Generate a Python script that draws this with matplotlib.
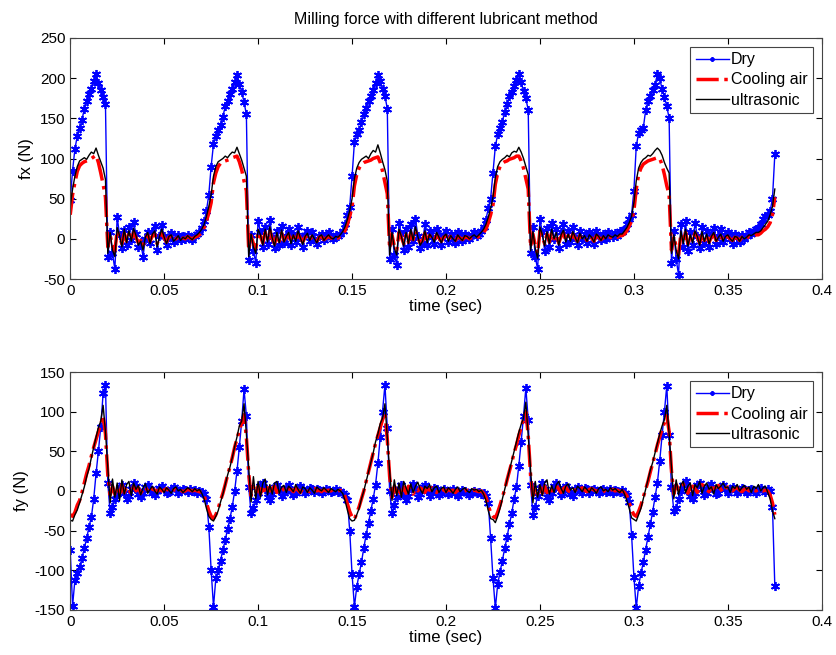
import numpy as np
import matplotlib
matplotlib.use('Agg')
from matplotlib import pyplot as plt

plt.rcParams['font.family'] = ['Liberation Sans', 'DejaVu Sans']
plt.rcParams['axes.unicode_minus'] = False

# sample time, 1.25 ms steps (0 .. 0.375 s)
t = np.arange(301) * 0.00125

# fx values (20 samples = 25 ms per row)
fx_dry = [48, 85, 112, 128, 138, 148, 162, 172, 180, 187, 196, 205, 194, 185, 176, 168, -22, 8, -18, -38,
          27, 5, -12, 11, -8, 15, -2, 21, 6, -10, -4, -22, 0, 9, -5, 8, 16, -14, 4, 17,
          3, -8, 2, 7, -4, 0, 5, -2, 3, 0, 5, 2, -1, 4, 6, 9, 14, 22, 35, 55,
          90, 118, 128, 135, 142, 152, 165, 172, 180, 186, 195, 204, 193, 183, 170, 155, -26, 5, -15, -30,
          22, 8, -10, 15, -6, 24, 2, -12, 10, -8, 16, -5, 4, 12, -8, 6, -4, 15, 2, -10,
          5, 10, -3, 8, 0, -6, 4, 6, -2, 3, 8, 2, 0, 5, 3, 6, 10, 18, 30, 40,
          78, 120, 130, 136, 145, 155, 163, 172, 178, 185, 194, 204, 196, 186, 178, 162, -25, 12, -20, -32,
          20, 6, -14, 12, -10, 18, -3, 25, 4, -12, -5, 18, -8, 10, 2, -6, 12, 3, -8, 5,
          10, -4, 6, 0, -5, 8, 2, -3, 6, 4, 0, 5, 8, 3, 6, 10, 15, 24, 38, 50,
          82, 115, 130, 138, 146, 158, 168, 178, 183, 190, 198, 205, 195, 184, 175, 160, -18, 15, -22, -38,
          25, 8, -15, 14, -10, 20, 0, 12, -12, 8, 18, -6, 10, -4, 15, 2, -8, 10, 0, 6,
          -5, 8, 3, -6, 10, 4, -2, 6, 0, 8, 5, 2, 7, 4, 10, 8, 12, 18, 25, 30,
          60, 115, 132, 135, 138, 160, 172, 178, 185, 192, 205, 200, 186, 177, 165, 150, -30, 10, -25, -45,
          18, -10, 22, -15, 8, -8, 20, 4, -12, 15, -5, 10, -10, 6, 14, -6, 3, 12, -4, 5,
          8, 0, -6, 6, 2, -4, 5, 0, 4, 8, 6, 10, 12, 14, 18, 25, 28, 30, 35, 50,
          105]
fx_air = [30, 55, 70, 84, 91, 94, 96, 97, 98, 100, 102, 104, 95, 82, 68, 52, -10, 4, -8, -15,
          10, 2, -6, 7, -3, 6, -1, 8, 2, -5, -2, -9, 1, 5, -3, 4, 6, -6, 2, 7,
          1, -4, 2, 3, -2, 0, 2, -1, 1, 0, 3, 1, 0, 2, 3, 5, 8, 14, 22, 32,
          45, 70, 82, 90, 94, 96, 97, 98, 99, 101, 102, 103, 96, 86, 72, 60, -14, 4, -6, -12,
          8, 3, -5, 8, -2, 10, 0, -6, 5, -3, 7, -2, 2, 5, -4, 3, -2, 6, 1, -4,
          2, 4, -1, 3, 0, -3, 2, 3, -1, 1, 3, 1, 0, 2, 1, 3, 6, 10, 18, 28,
          40, 66, 80, 88, 93, 95, 96, 97, 98, 100, 101, 102, 95, 84, 70, 56, -12, 5, -9, -14,
          8, 2, -6, 5, -4, 8, -1, 10, 2, -5, -2, 7, -3, 4, 1, -2, 5, 1, -3, 2,
          4, -2, 3, 0, -2, 3, 1, -1, 2, 2, 0, 2, 3, 1, 3, 5, 8, 12, 20, 30,
          42, 68, 82, 90, 94, 96, 97, 99, 100, 101, 103, 103, 97, 88, 75, 62, -10, 6, -8, -18,
          10, 3, -6, 6, -4, 8, 0, 5, -5, 3, 7, -2, 4, -2, 6, 1, -3, 4, 0, 2,
          -2, 3, 1, -3, 4, 2, -1, 2, 0, 3, 2, 1, 3, 2, 4, 4, 6, 10, 16, 22,
          35, 62, 80, 88, 93, 95, 97, 98, 99, 100, 101, 100, 92, 80, 66, 55, -14, 3, -10, -20,
          6, -4, 8, -6, 3, -3, 7, 2, -5, 6, -2, 4, -4, 2, 5, -2, 1, 4, -2, 2,
          3, 0, -2, 2, 1, -2, 2, 0, 1, 3, 2, 4, 5, 5, 7, 10, 12, 15, 20, 30,
          52]
fx_us = [40, 62, 78, 90, 97, 99, 101, 99, 104, 108, 106, 113, 104, 96, 88, 74, -18, 8, -14, -22,
         14, 4, -10, 12, -5, 10, -3, 13, 4, -8, -3, -14, 2, 8, -6, 6, 10, -10, 3, 12,
         2, -6, 3, 5, -3, 0, 4, -2, 2, 0, 4, 1, -1, 3, 5, 8, 12, 18, 28, 40,
         55, 78, 90, 96, 98, 100, 103, 101, 105, 108, 107, 114, 106, 98, 88, 78, -22, 6, -10, -18,
         12, 5, -8, 12, -4, 15, 1, -9, 8, -5, 11, -4, 3, 8, -6, 5, -3, 10, 1, -7,
         3, 7, -2, 5, 0, -5, 3, 5, -2, 2, 5, 1, 0, 3, 2, 5, 9, 15, 24, 35,
         50, 75, 88, 95, 99, 101, 103, 100, 106, 110, 108, 117, 107, 96, 86, 72, -20, 8, -12, -20,
         12, 3, -9, 8, -6, 12, -2, 15, 3, -8, -3, 10, -5, 6, 2, -4, 8, 2, -5, 3,
         6, -3, 4, 0, -3, 5, 1, -2, 4, 3, 0, 3, 5, 2, 5, 8, 12, 18, 27, 38,
         52, 76, 90, 96, 99, 101, 104, 102, 107, 109, 108, 114, 108, 100, 90, 80, -15, 9, -12, -24,
         15, 5, -9, 9, -6, 12, 0, 8, -8, 5, 11, -4, 6, -3, 9, 2, -5, 7, 0, 4,
         -3, 5, 2, -4, 6, 3, -2, 4, 0, 5, 3, 2, 5, 3, 6, 6, 10, 14, 20, 28,
         45, 72, 88, 95, 99, 101, 104, 103, 106, 110, 113, 110, 104, 95, 88, 82, -18, 5, -14, -25,
         10, -6, 12, -9, 5, -5, 10, 3, -8, 9, -3, 6, -6, 3, 8, -3, 2, 6, -3, 3,
         5, 0, -3, 3, 2, -3, 3, 0, 2, 5, 4, 6, 8, 8, 10, 14, 18, 22, 30, 40,
         62]

# fy values
fy_dry = [-75, -145, -112, -103, -96, -85, -72, -60, -45, -33, -10, 22, 50, 81, 123, 134, 10, -28, -20, -10,
          -4, 5, 8, -2, -10, -6, 3, 10, 6, -4, -8, -2, 5, 8, 2, -3, -5, 0, 4, 6,
          2, -3, -1, 3, 5, 2, -2, 0, 3, 1, -1, 2, 0, 1, -2, 0, -1, -4, -10, -45,
          -100, -146, -110, -100, -88, -74, -62, -48, -35, -20, 0, 25, 55, 88, 128, 95, 5, -28, -22, -12,
          -2, 6, 10, 3, -8, -12, -4, 5, 8, 2, -6, -3, 4, 7, 0, -5, -2, 3, 6, 2,
          -3, 0, 4, 2, -1, 3, 1, -2, 0, 2, 1, -1, 0, 2, -1, 0, -2, -5, -12, -50,
          -105, -146, -121, -105, -90, -72, -55, -40, -25, -10, 8, 35, 68, 100, 134, 80, 0, -28, -18, -8,
          2, 8, -5, -12, -6, 4, 9, 2, -8, -4, 5, 8, 0, -6, -3, 4, 2, -5, -2, 3,
          0, -4, -2, 2, -3, -6, -2, 1, 0, -3, -5, -2, 0, -3, -1, -4, -2, -6, -15, -60,
          -110, -148, -118, -102, -88, -72, -58, -42, -28, -10, 5, 32, 62, 95, 130, 90, 8, -30, -20, -6,
          4, 10, 2, -8, -12, -3, 6, 10, 4, -5, -2, 6, 3, -4, -6, 2, 5, 0, -3, 4,
          2, -2, 1, 3, 0, -3, 1, 2, -1, 0, 2, -2, 1, 0, -1, 1, -2, -5, -14, -55,
          -108, -148, -120, -104, -90, -74, -58, -42, -26, -8, 10, 38, 70, 100, 133, 70, 5, -25, -22, -10,
          0, 8, 12, 4, -6, -10, -2, 8, 10, 3, -5, -3, 5, 9, 2, -4, -2, 4, 8, 3,
          -2, 2, 5, 1, -3, 0, 4, 2, -2, 1, 3, 0, -2, 2, 4, 1, -1, 2, 0, -20,
          -120]
fy_air = [-30, -32, -27, -18, -12, -2, 10, 22, 32, 44, 55, 65, 75, 84, 95, 72, 20, -5, 6, -4,
          3, -6, 8, -2, 5, 2, -4, 6, 0, 4, -3, 2, 5, 0, -2, 3, 1, -1, 2, 0,
          1, 3, 0, -2, 1, 2, 0, 1, -1, 0, 2, 1, 0, 1, 0, -1, -2, -6, -15, -25,
          -32, -35, -30, -22, -12, -3, 8, 20, 30, 42, 55, 66, 76, 86, 96, 68, 22, -6, 5, -3,
          6, -4, 7, -3, 4, 0, 3, 6, -2, 2, 5, 1, -2, 3, 2, -1, 4, 1, -2, 3,
          2, 0, -1, 2, 3, 0, 1, -1, 2, 0, 1, 0, 2, 1, 0, 1, -2, -7, -16, -26,
          -33, -36, -28, -20, -10, 0, 12, 24, 36, 48, 60, 70, 80, 90, 98, 65, 18, -8, 6, -2,
          4, -6, 5, -3, 6, 2, -4, 3, 0, 4, 2, -2, 3, 1, 4, 0, -2, 3, 1, 2,
          -1, 2, 0, 1, -2, 1, 0, -1, 0, 1, -1, 0, 1, 0, -1, 0, -3, -8, -18, -28,
          -32, -34, -27, -18, -8, 2, 14, 25, 36, 48, 58, 70, 80, 90, 100, 70, 20, -6, 4, -4,
          5, -3, 6, -2, 3, 0, 4, 7, 2, -2, 3, 5, 0, -1, 3, 1, -2, 2, 4, 1,
          -1, 2, 3, 1, 0, -1, 2, 1, -2, 0, 1, 2, 0, 1, -1, 0, -2, -6, -15, -24,
          -30, -32, -26, -18, -8, 2, 12, 24, 35, 46, 58, 68, 78, 86, 95, 75, 25, -4, 8, 2,
          6, 9, 2, -3, 4, 6, 3, -2, 5, 8, 6, 1, -1, 4, 3, 5, 7, 2, -2, 3,
          5, 2, 0, 3, 4, 1, -1, 2, 3, 0, 2, 1, 0, 2, 1, 0, 1, 0, -5, -15,
          -30]
fy_us = [-37, -38, -30, -24, -15, -5, 5, 18, 28, 42, 55, 68, 80, 88, 108, 75, 30, -15, 15, -8,
         10, -12, 14, -4, 8, 12, -6, 10, 2, 7, -5, 4, 9, -3, 2, 6, 0, -4, 5, 2,
         -2, 4, 1, -3, 3, 5, 0, 2, -2, 1, 4, 2, -1, 3, 0, 2, -3, -10, -22, -32,
         -36, -38, -32, -25, -14, -4, 8, 20, 30, 42, 56, 68, 82, 88, 110, 72, 28, -14, 18, -10,
         12, -8, 10, 15, -5, 8, -4, 10, 12, -3, 5, 7, -2, 6, 3, -1, 8, 2, -3, 5,
         3, -2, 4, 1, -3, 5, 2, 0, 4, 1, -2, 3, 1, -1, 2, 0, -3, -12, -24, -35,
         -38, -37, -30, -22, -10, 0, 12, 24, 36, 48, 62, 72, 85, 92, 110, 68, 25, -12, 14, -6,
         10, -8, 12, 4, -4, 9, -2, 6, 11, 2, -3, 6, 3, 8, -1, 4, 6, -2, 3, 5,
         -2, 4, 1, -3, 2, 5, -1, 2, 4, 0, -2, 3, 1, 2, -1, 1, -4, -12, -25, -35,
         -36, -40, -32, -22, -10, 2, 14, 26, 38, 50, 62, 74, 84, 92, 112, 70, 28, -15, 12, -8,
         8, -6, 10, 14, -4, 7, -2, 8, 12, 3, -3, 6, 9, 1, 4, -2, 6, 3, -1, 5,
         2, -2, 4, 1, -3, 3, 5, 0, 2, -1, 4, 1, 3, 0, -2, 2, -4, -12, -22, -34,
         -36, -38, -30, -22, -10, 2, 14, 26, 36, 48, 60, 72, 82, 90, 108, 72, 30, -10, 14, -5,
         8, 12, -2, 6, 10, -6, 8, 4, 12, -3, 6, 10, 2, 5, -4, 8, 3, 6, 10, 4,
         5, -2, 6, 3, 8, 0, 4, 7, 2, 5, -2, 6, 3, 8, 0, 4, 6, -2, -10, -25,
         -35]

xticks = [0, 0.05, 0.1, 0.15, 0.2, 0.25, 0.3, 0.35, 0.4]
xlabels = ['0', '0.05', '0.1', '0.15', '0.2', '0.25', '0.3', '0.35', '0.4']

ASTERISK = (6, 2, 0)   # matlab style '*'


def draw(ax, dry, air, us, ylim, ylab):
    ax.plot(t, dry, color='b', marker=ASTERISK, markersize=6.5, markeredgewidth=1.3,
            linewidth=1, label='Dry')
    ax.plot(t, air, 'r-.', linewidth=2.5, label='Cooling air')
    ax.plot(t, us, 'k-', linewidth=1, label='ultrasonic')
    ax.set_xlim(0, 0.4)
    ax.set_ylim(*ylim)
    ax.set_xticks(xticks)
    ax.set_xticklabels(xlabels)
    ax.set_yticks(np.arange(ylim[0], ylim[1] + 1, 50))
    ax.tick_params(direction='in', top=True, right=True, labelsize=11, length=4)
    for s in ax.spines.values():
        s.set_color('#444444')
    ax.set_xlabel('time (sec)', fontsize=12, labelpad=1)
    ax.set_ylabel(ylab, fontsize=12)
    leg = ax.legend(loc='upper right', fontsize=11.5, fancybox=False, framealpha=1,
                    edgecolor='#444444', handlelength=2.1, handletextpad=0.1,
                    borderpad=0.35, labelspacing=0.32, borderaxespad=0.55)
    leg.get_frame().set_linewidth(0.8)
    leg.legend_handles[0].set_markersize(3)


fig = plt.figure(figsize=(8.36, 6.55), dpi=100)
ax1 = fig.add_axes([0.084, 0.574, 0.899, 0.368])
ax2 = fig.add_axes([0.084, 0.069, 0.899, 0.363])

draw(ax1, fx_dry, fx_air, fx_us, (-50, 250), 'fx (N)')
ax1.set_title('Milling force with different lubricant method', fontsize=11.5, pad=10)
draw(ax2, fy_dry, fy_air, fy_us, (-150, 150), 'fy (N)')

fig.savefig('out.png', dpi=100)
